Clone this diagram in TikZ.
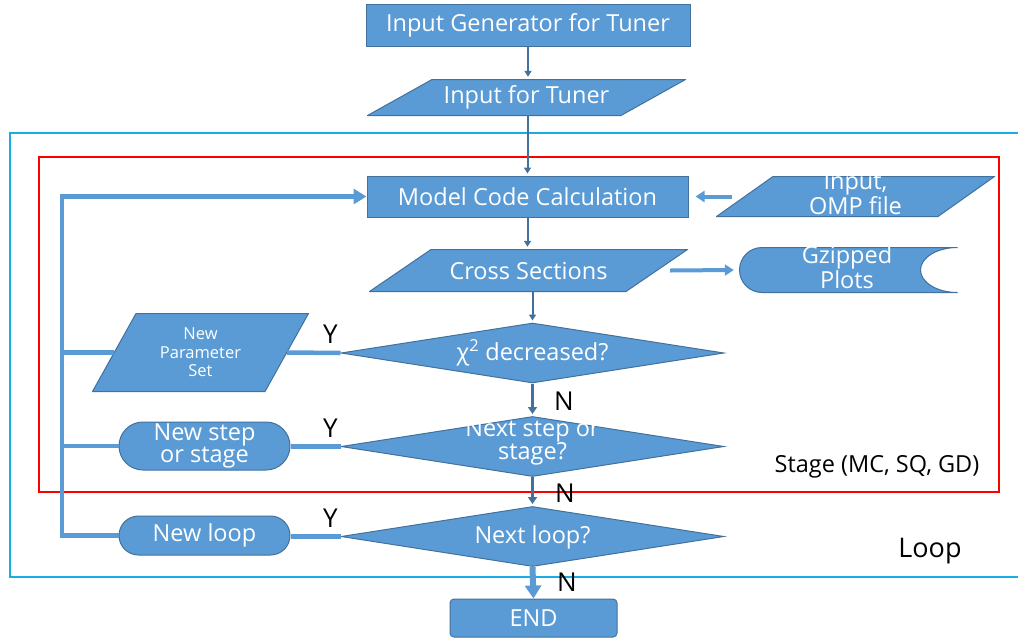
\documentclass[tikz,border=0pt]{standalone}
\usepackage{fontspec}
\setmainfont{Open Sans}
\usetikzlibrary{shapes.geometric, shapes.misc, arrows.meta}

\definecolor{boxfill}{HTML}{5B9BD5}
\definecolor{boxline}{HTML}{41719C}
\definecolor{loopcolor}{HTML}{1AADE4}

\tikzset{
  txt/.style={text=white, align=center, font=\fontsize{23.5}{21}\selectfont},
  tighttxt/.style={txt, font=\fontsize{23.5}{20}\selectfont},
  box/.style={txt, draw=boxline, fill=boxfill, line width=1pt, inner sep=1pt},
  shapefill/.style={fill=boxfill, draw=boxline, line width=1pt},
  process/.style={box, rectangle, minimum width=#1, minimum height=41pt},
  io/.style={txt, inner sep=0pt, path picture={
    \filldraw[shapefill]
      ([xshift=#1,yshift=-0.5pt]path picture bounding box.north west)
      -- ([xshift=-0.5pt,yshift=-0.5pt]path picture bounding box.north east)
      -- ([xshift=-#1,yshift=0.5pt]path picture bounding box.south east)
      -- ([xshift=0.5pt,yshift=0.5pt]path picture bounding box.south west) -- cycle;}},
  decision/.style={box, diamond, minimum width=383pt, minimum height=60pt, inner sep=0pt},
  terminal/.style={box, rounded rectangle, minimum width=173pt},
  stored/.style={txt, inner sep=0pt, minimum width=219pt, minimum height=46pt, path picture={
    \filldraw[shapefill]
      ([xshift=-0.5pt,yshift=-0.5pt]path picture bounding box.north east)
      -- ([xshift=23pt,yshift=-0.5pt]path picture bounding box.north west)
      arc[start angle=90, end angle=270, x radius=22.5pt, y radius=22.5pt]
      -- ([xshift=-0.5pt,yshift=0.5pt]path picture bounding box.south east)
      arc[start angle=270, end angle=90, x radius=37pt, y radius=22.5pt] -- cycle;}},
  flow/.style={draw=boxline, line width=2pt, shorten >=2pt, -{Triangle[length=6pt,width=7pt]}},
  flowmid/.style={draw=boxline, line width=3pt, shorten >=2pt, -{Triangle[length=7pt,width=9pt]}},
  flowthick/.style={draw=boxfill, line width=4pt, -{Triangle[length=9pt,width=11pt]}},
  loopline/.style={draw=boxfill, line width=4.5pt},
  yn/.style={font=\fontsize{26}{26}\selectfont},
}

\begin{document}
\begin{tikzpicture}[x=1pt, y=-1pt]
\useasboundingbox (0,0) rectangle (1018,643);
\draw[loopcolor, line width=1.5pt] (1020,133) -- (10,133) -- (10,577) -- (1020,577);
\draw[red, line width=1.5pt] (39,157) rectangle (999,492);

\node[process=324pt, minimum height=42pt] (gen) at (528,25) {Input Generator for Tuner};
\node[io=65pt, minimum width=319pt, minimum height=37pt] (inp) at (526.5,97.5) {Input for Tuner};
\node[process=321pt] (model) at (527.5,196.5) {Model Code Calculation};
\node[io=57pt, minimum width=279pt, minimum height=41pt,
  label={[tighttxt, yshift=3pt]center:Input,\\OMP file}] (omp) at (855.5,196.5) {};
\node[io=62pt, minimum width=319pt, minimum height=43pt] (cross) at (528.5,270.5) {Cross Sections};
\node[stored, label={[tighttxt, yshift=3pt, xshift=-1.5pt]center:Gzipped\\Plots}] (gz) at (848.5,270) {};
\node[decision, label={[txt]center:χ\textsuperscript{2} decreased?}] (dchi) at (532.5,353) {};
\node[io=44pt, minimum width=217pt, minimum height=79pt,
  font=\fontsize{16.5}{18.5}\selectfont] (npar) at (200.5,352.5) {New\\Parameter\\Set};
\node[decision, label={[txt, yshift=4pt]center:Next step or\\stage?}] (dstep) at (532.5,446.5) {};
\node[terminal, minimum height=48pt, font=\fontsize{23.5}{22}\selectfont] (nstep) at (204.5,446) {New step\\or stage};
\node[decision, label={[txt, yshift=-1pt]center:Next loop?}] (dloop) at (532.5,536.5) {};
\node[terminal, minimum height=39pt] (nloop) at (204.5,535.5) {New loop};
\node[process=167pt, minimum height=38pt, rounded corners=4pt] (end) at (533.5,618) {END};

\node[yn] (ychi) at (330.5,334.5) {Y};
\node[yn] (ystep) at (330.5,428) {Y};
\node[yn] (yloop) at (330.5,518) {Y};
\node[yn] (nchi) at (564,401) {N};
\node[yn] (nstepl) at (565,493) {N};
\node[yn] (nloopl) at (567,582) {N};
\node[font=\fontsize{23.5}{23.5}\selectfont] (stage) at (877,467) {Stage (MC, SQ, GD)};
\node[font=\fontsize{27}{27}\selectfont] (loop) at (930,551) {Loop};

\coordinate (corner) at (62,196.5);

\draw[flow] (gen.south) -- (gen.south |- inp.north);
\draw[flow] (inp.south -| model.north) -- (model.north);
\draw[flow] (model.south) -- (model.south |- cross.north);
\draw[flow] (cross.south -| dchi.north) -- (dchi.north);
\draw[flowmid] (dchi.south) -- (dstep.north);
\draw[flowmid] (dstep.south) -- (dloop.north);
\draw[draw=boxfill, line width=6pt, -{Triangle[length=13pt,width=16pt]}] (dloop.south) -- (end.north);
\draw[flowthick] ([xshift=16pt]omp.west) -- ([xshift=7pt]model.east);
\draw[flowthick] ([xshift=-18pt]cross.east) -- ([xshift=-5pt]gz.west);

\draw[loopline] (dchi.west) -- ([xshift=-22pt]npar.east);
\draw[loopline] (dstep.west) -- (dstep.west -| nstep.east);
\draw[loopline] (dloop.west) -- (dloop.west -| nloop.east);
\draw[loopline] ([xshift=22pt]npar.west) -- (npar.west -| corner);
\draw[loopline] (nstep.west) -- (nstep.west -| corner);
\draw[loopline, -{Triangle[length=13pt,width=15pt]}] (nloop.west) -| (corner) -- (model.west);
\end{tikzpicture}
\end{document}
